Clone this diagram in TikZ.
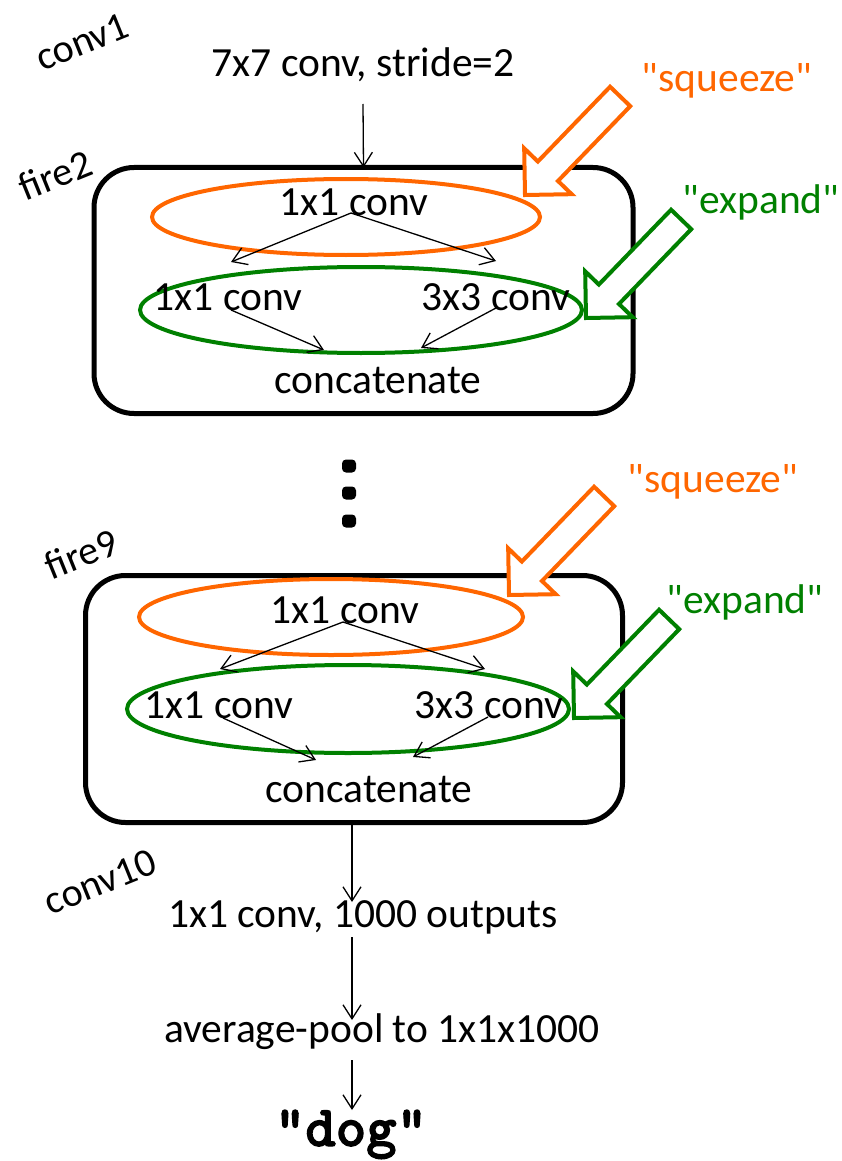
\documentclass[tikz,border=0pt]{standalone}
\usepackage{fontspec}
\setmainfont{Carlito}[Ligatures=TeXOff]
\newfontfamily\dogfont{lmmonolt10-bold.otf}[FakeBold=2]
\usetikzlibrary{arrows.meta}

\definecolor{squeezeorange}{RGB}{255,102,0}
\definecolor{expandgreen}{RGB}{0,128,0}

\tikzset{
  txt/.style={inner sep=0pt, outer sep=0pt, anchor=base, font=\fontsize{41.5}{50}\selectfont},
  tag/.style={inner sep=0pt, outer sep=0pt, anchor=center, rotate=22, font=\fontsize{40}{48}\selectfont},
  flow/.style={line width=1.3pt, -{Straight Barb[length=14pt,width=18pt]}},
  module/.style={draw, line width=5pt, rounded corners=40pt, inner sep=0pt, outer sep=0pt},
  squeezering/.style={draw=squeezeorange, line width=4pt},
  expandring/.style={draw=expandgreen, line width=4pt},
  squeezetxt/.style={txt, text=squeezeorange},
  expandtxt/.style={txt, text=expandgreen},
  pointer/.style={line width=4pt, line join=miter, fill=white},
  dot/.style={rectangle, rounded corners=4pt, fill=black, inner sep=0pt, minimum width=14pt, minimum height=13pt},
}

% hollow block arrow: colour, tip point; the tail points up and to the right
\newcommand\hollowarrow[2]{%
  \draw[pointer, draw=#1, shift={#2}, rotate=46]
    (0,0) -- (33,33) -- (33,14) -- (137,14) -- (137,-14) -- (33,-14) -- (33,-33) -- cycle;}

\begin{document}
\begin{tikzpicture}[x=1pt, y=-1pt]
\useasboundingbox (0,0) rectangle (841,1161);

% ---- conv1 ----
\node[tag] (conv1tag) at (82,42) {conv1};
\node[txt] (conv1) at (363,77) {7x7 conv, stride=2};
\coordinate (conv1out) at (363,104);

% ---- fire2 ----
\node[module, minimum width=539pt, minimum height=246pt] (fire2) at (363.5,290.5) {};
\node[tag] (fire2tag) at (55,175) {fire2};
\draw[squeezering] (346,217) ellipse [x radius=194, y radius=38];
\draw[expandring] (361,310) ellipse [x radius=221, y radius=43];
\node[txt] (sq2) at (354,215) {1x1 conv};
\node[txt] (exa2) at (228,310) {1x1 conv};
\node[txt] (exb2) at (496,310) {3x3 conv};
\node[txt] (cat2) at (378,393) {concatenate};
\coordinate (sq2o) at (351,213);
\coordinate (exa2i) at (231,262);
\coordinate (exb2i) at (496,261);
\coordinate (exa2o) at (231,310);
\coordinate (exb2o) at (496,308);
\coordinate (cat2ia) at (324,350);
\coordinate (cat2ib) at (421,348);
\draw[flow] (conv1out) -- (fire2.north);
\draw[flow] (sq2o) -- (exa2i);
\draw[flow] (sq2o) -- (exb2i);
\draw[flow] (exa2o) -- (cat2ia);
\draw[flow] (exb2o) -- (cat2ib);
\hollowarrow{squeezeorange}{(525,195)}
\hollowarrow{expandgreen}{(586,318)}
\node[squeezetxt] (sqlabel2) at (727,92) {"squeeze"};
\node[expandtxt] (exlabel2) at (761,213) {"expand"};

% ---- ellipsis between modules ----
\node[dot] (d1) at (349,466) {};
\node[dot] (d2) at (349,493) {};
\node[dot] (d3) at (349,521) {};

% ---- fire9 ----
\node[module, minimum width=537pt, minimum height=247pt] (fire9) at (354,699) {};
\node[tag] (fire9tag) at (81,554) {fire9};
\draw[squeezering] (331,617) ellipse [x radius=192, y radius=38];
\draw[expandring] (348,709) ellipse [x radius=221, y radius=44];
\node[txt] (sq9) at (345,623) {1x1 conv};
\node[txt] (exa9) at (219,718) {1x1 conv};
\node[txt] (exb9) at (489,718) {3x3 conv};
\node[txt] (cat9) at (369,802) {concatenate};
\coordinate (sq9o) at (343,622);
\coordinate (exa9i) at (220,669);
\coordinate (exb9i) at (485,669);
\coordinate (exa9o) at (223,718);
\coordinate (exb9o) at (488,717);
\coordinate (cat9ia) at (316,760);
\coordinate (cat9ib) at (413,757);
\draw[flow] (sq9o) -- (exa9i);
\draw[flow] (sq9o) -- (exb9i);
\draw[flow] (exa9o) -- (cat9ia);
\draw[flow] (exb9o) -- (cat9ib);
\hollowarrow{squeezeorange}{(509,595)}
\hollowarrow{expandgreen}{(574,718)}
\node[squeezetxt] (sqlabel9) at (713,492) {"squeeze"};
\node[expandtxt] (exlabel9) at (745,613) {"expand"};

% ---- conv10 and classifier ----
\node[tag] (conv10tag) at (100,882) {conv10};
\node[txt] (conv10) at (363,927) {1x1 conv, 1000 outputs};
\node[txt] (pool) at (382,1042) {average-pool to 1x1x1000};
\node[txt, font=\fontsize{58}{62}\dogfont] (dog) at (351,1146) {"dog"};
\coordinate (fire9out) at (352,822);
\coordinate (conv10in) at (352,902);
\coordinate (conv10out) at (352,937);
\coordinate (poolin) at (352,1020);
\coordinate (poolout) at (352,1060);
\coordinate (dogin) at (352,1110);
\draw[flow] (fire9out) -- (conv10in);
\draw[flow] (conv10out) -- (poolin);
\draw[flow] (poolout) -- (dogin);
\end{tikzpicture}
\end{document}
